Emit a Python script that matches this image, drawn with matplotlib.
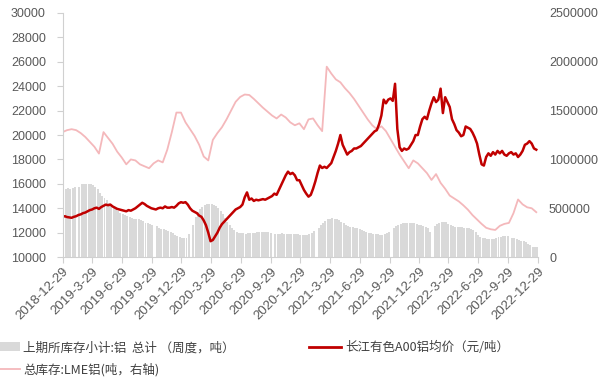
import numpy as np
import pandas as pd
import matplotlib
matplotlib.use("Agg")
import matplotlib.pyplot as plt
from matplotlib.patches import Patch
from matplotlib.lines import Line2D
from matplotlib.ticker import FuncFormatter

plt.rcParams["font.family"] = ["Liberation Sans", "Noto Sans CJK SC", "DejaVu Sans"]

nan = np.nan

# weekly SHFE aluminium stock, thousand tonnes (nan = holiday week, no report)
shfe_k = [
    690, 700, 705, 700, 710, 715, nan, 720, 745, 752, 750, 748, 745,
    735, 720, 700, 660, 630, 605, 580, 550, 520, 505, 490, 470, 455,
    440, 432, 425, 415, 400, 395, 392, 388, 380, 365, 350, 345, 340,
    330, nan, 320, 300, 292, 285, 280, 272, 260, 245, 230, 215, 205,
    200, 198, 195, 240, nan, 330, 410, 460, 490, 515, 530, 540, 543,
    543, 535, 520, 500, 470, 440, 400, 360, 328, 300, 280, 262, 250,
    243, 243, 240, 242, 245, 249, 250, 252, 255, 258, 260, 258, 255,
    250, nan, 240, 238, 240, 242, 240, 238, 236, 238, 240, 238, 232,
    225, 222, 225, 230, 240, 250, 265, nan, 295, 330, 352, 370, 386,
    392, 396, 392, 385, 379, 360, 345, 330, 320, 311, 304, 298, 294,
    285, 275, 268, 260, 249, 245, 240, 236, 232, 228, 225, 232, 243,
    255, nan, 300, 318, 330, 338, 345, 352, 352, 350, 348, 345, 340,
    330, 328, 320, 311, 295, 259, nan, 320, 338, 350, 360, 362, 355,
    340, 332, 320, 311, 308, 305, 304, 300, 298, 294, 290, 275, 259,
    230, 208, 200, 191, 185, 183, 181, 188, 200, 208, 210, 212, 215,
    212, nan, 200, 191, 185, 178, 167, 160, 150, 133, 120, 106, 102, 99,
]

# weekly Changjiang A00 aluminium price, yuan/tonne
price = [
    13300, 13350, 13280, 13250, 13220, 13300, 13350, 13450, 13500, 13600, 13650, 13750, 13850,
    13900, 14000, 14050, 13950, 14100, 14200, 14300, 14250, 14300, 14150, 14050, 13950, 13900,
    13850, 13800, 13750, 13850, 13800, 13900, 14000, 14150, 14300, 14450, 14350, 14200, 14100,
    14000, 13950, 13900, 14000, 14050, 14000, 14150, 14050, 14050, 14100, 14050, 14200, 14400,
    14500, 14450, 14500, 14300, 14000, 13800, 13700, 13600, 13400, 13300, 13000, 12600, 12000,
    11300, 11400, 11700, 12000, 12400, 12700, 12900, 13100, 13300, 13500, 13700, 13900, 14000,
    14100, 14300, 14900, 15300, 14700, 14800, 14600, 14700, 14650, 14700, 14750, 14700, 14800,
    14900, 15000, 15200, 15100, 15500, 15900, 16300, 16700, 17000, 16800, 16900, 16700, 16300,
    16300, 15900, 15500, 15200, 14950, 15100, 15600, 16200, 16900, 17500, 17300, 17400, 17300,
    17500, 17700, 18200, 18700, 19300, 20000, 19200, 18800, 18400, 18600, 18700, 18900, 18900,
    19000, 19100, 19300, 19500, 19700, 19900, 20100, 20300, 20400, 20900, 21600, 22900, 22600,
    22900, 23000, 22800, 24200, 20500, 19000, 18700, 18900, 18800, 18900, 19200, 19500, 20000,
    20000, 20700, 21300, 21500, 21300, 22000, 22600, 23100, 22700, 22900, 23800, 21800, 23100,
    22700, 22300, 21300, 20900, 20400, 20200, 19900, 20000, 20700, 20600, 20500, 20200, 19800,
    19300, 18400, 17600, 17500, 18200, 18500, 18300, 18600, 18400, 18700, 18500, 18700, 18400,
    18300, 18500, 18600, 18400, 18500, 18200, 18400, 18700, 19200, 19300, 19500, 19300, 18900, 18800,
]

# fortnightly LME aluminium stock, thousand tonnes
lme_k = [
    1280, 1300, 1310, 1300, 1270, 1230, 1180, 1130, 1060, 1280,
    1220, 1160, 1080, 1020, 950, 1000, 990, 950, 930, 910,
    960, 990, 970, 1100, 1280, 1480, 1480, 1380, 1310, 1240,
    1150, 1030, 990, 1200, 1270, 1330, 1410, 1500, 1590, 1640,
    1665, 1660, 1620, 1575, 1530, 1490, 1450, 1420, 1460, 1430,
    1380, 1350, 1370, 1310, 1410, 1420, 1350, 1290, 1950, 1880,
    1820, 1790, 1730, 1680, 1620, 1550, 1480, 1410, 1350, 1310,
    1340, 1290, 1210, 1130, 1050, 980, 910, 990, 960, 910,
    860, 790, 850, 760, 700, 630, 600, 570, 530, 485,
    430, 385, 340, 300, 285, 278, 320, 340, 350, 450,
    590, 540, 510, 500, 460,
]

weeks = pd.date_range("2018-12-29", periods=len(price), freq="7D")
lme_dates = pd.date_range("2018-12-29", periods=len(lme_k), freq="14D")
tick_dates = pd.date_range("2018-12-01", periods=17, freq="3MS") + pd.Timedelta(days=28)
tick_labels = [f"{d.year}-{d.month}-{d.day}" for d in tick_dates]

shfe = np.array(shfe_k, dtype=float) * 1000
lme = np.array(lme_k, dtype=float) * 1000

red = "#C00000"
pink = "#F4B8BB"
grey = "#D9D9D9"
txt = "#595959"

fig = plt.figure(figsize=(6.01, 3.82), dpi=100)
ax = fig.add_axes([0.104, 0.327, 0.791, 0.639])
ax2 = ax.twinx()

# stocks on the right axis, price on top
ax2.bar(weeks, shfe, width=6, align="edge", color=grey, linewidth=0)
ax2.plot(lme_dates, lme, color=pink, lw=1.3)
ax.plot(weeks, price, color=red, lw=1.8)
ax.set_zorder(ax2.get_zorder() + 1)
ax.patch.set_visible(False)

ax.set_xlim(pd.Timestamp("2018-12-29"), pd.Timestamp("2022-12-29"))
ax.set_ylim(10000, 30000)
ax.set_yticks(range(10000, 30001, 2000))
ax2.set_ylim(0, 2500000)
ax2.set_yticks(range(0, 2500001, 500000))
ax2.yaxis.set_major_formatter(FuncFormatter(lambda v, p: f"{v:.0f}"))

ax.set_xticks(tick_dates)
ax.set_xticklabels(tick_labels, rotation=45, ha="right", rotation_mode="anchor")

for a in (ax, ax2):
    for s in a.spines.values():
        s.set_visible(False)
ax.spines["left"].set_visible(True)
ax.spines["bottom"].set_visible(True)
ax.spines["left"].set_color("#D0D0D0")
ax.spines["bottom"].set_color("#D0D0D0")

ax.tick_params(axis="y", labelsize=9, colors="#D0D0D0", labelcolor=txt, length=4, pad=8)
ax.tick_params(axis="x", labelsize=9.5, colors="#D0D0D0", labelcolor=txt, length=4, pad=2)
ax2.tick_params(axis="y", labelsize=9, labelcolor=txt, length=0, pad=8)

handles = [
    Patch(facecolor=grey, edgecolor="none"),
    Line2D([], [], color=pink, lw=1.3),
    Line2D([], [], color=red, lw=2),
]
labels = [
    "上期所库存小计:铝  总计 （周度，吨）",
    "总库存:LME铝(吨，右轴)",
    "长江有色A00铝均价（元/吨）",
]
fig.legend(handles, labels, loc="lower left", bbox_to_anchor=(-0.04, -0.015), ncol=2,
           frameon=False, prop={"family": ["Noto Sans CJK SC", "DejaVu Sans"], "size": 9},
           labelcolor="#404040", handlelength=2.6, handletextpad=0.3, columnspacing=5.9,
           labelspacing=0.7)

fig.savefig("out.png", dpi=100)
